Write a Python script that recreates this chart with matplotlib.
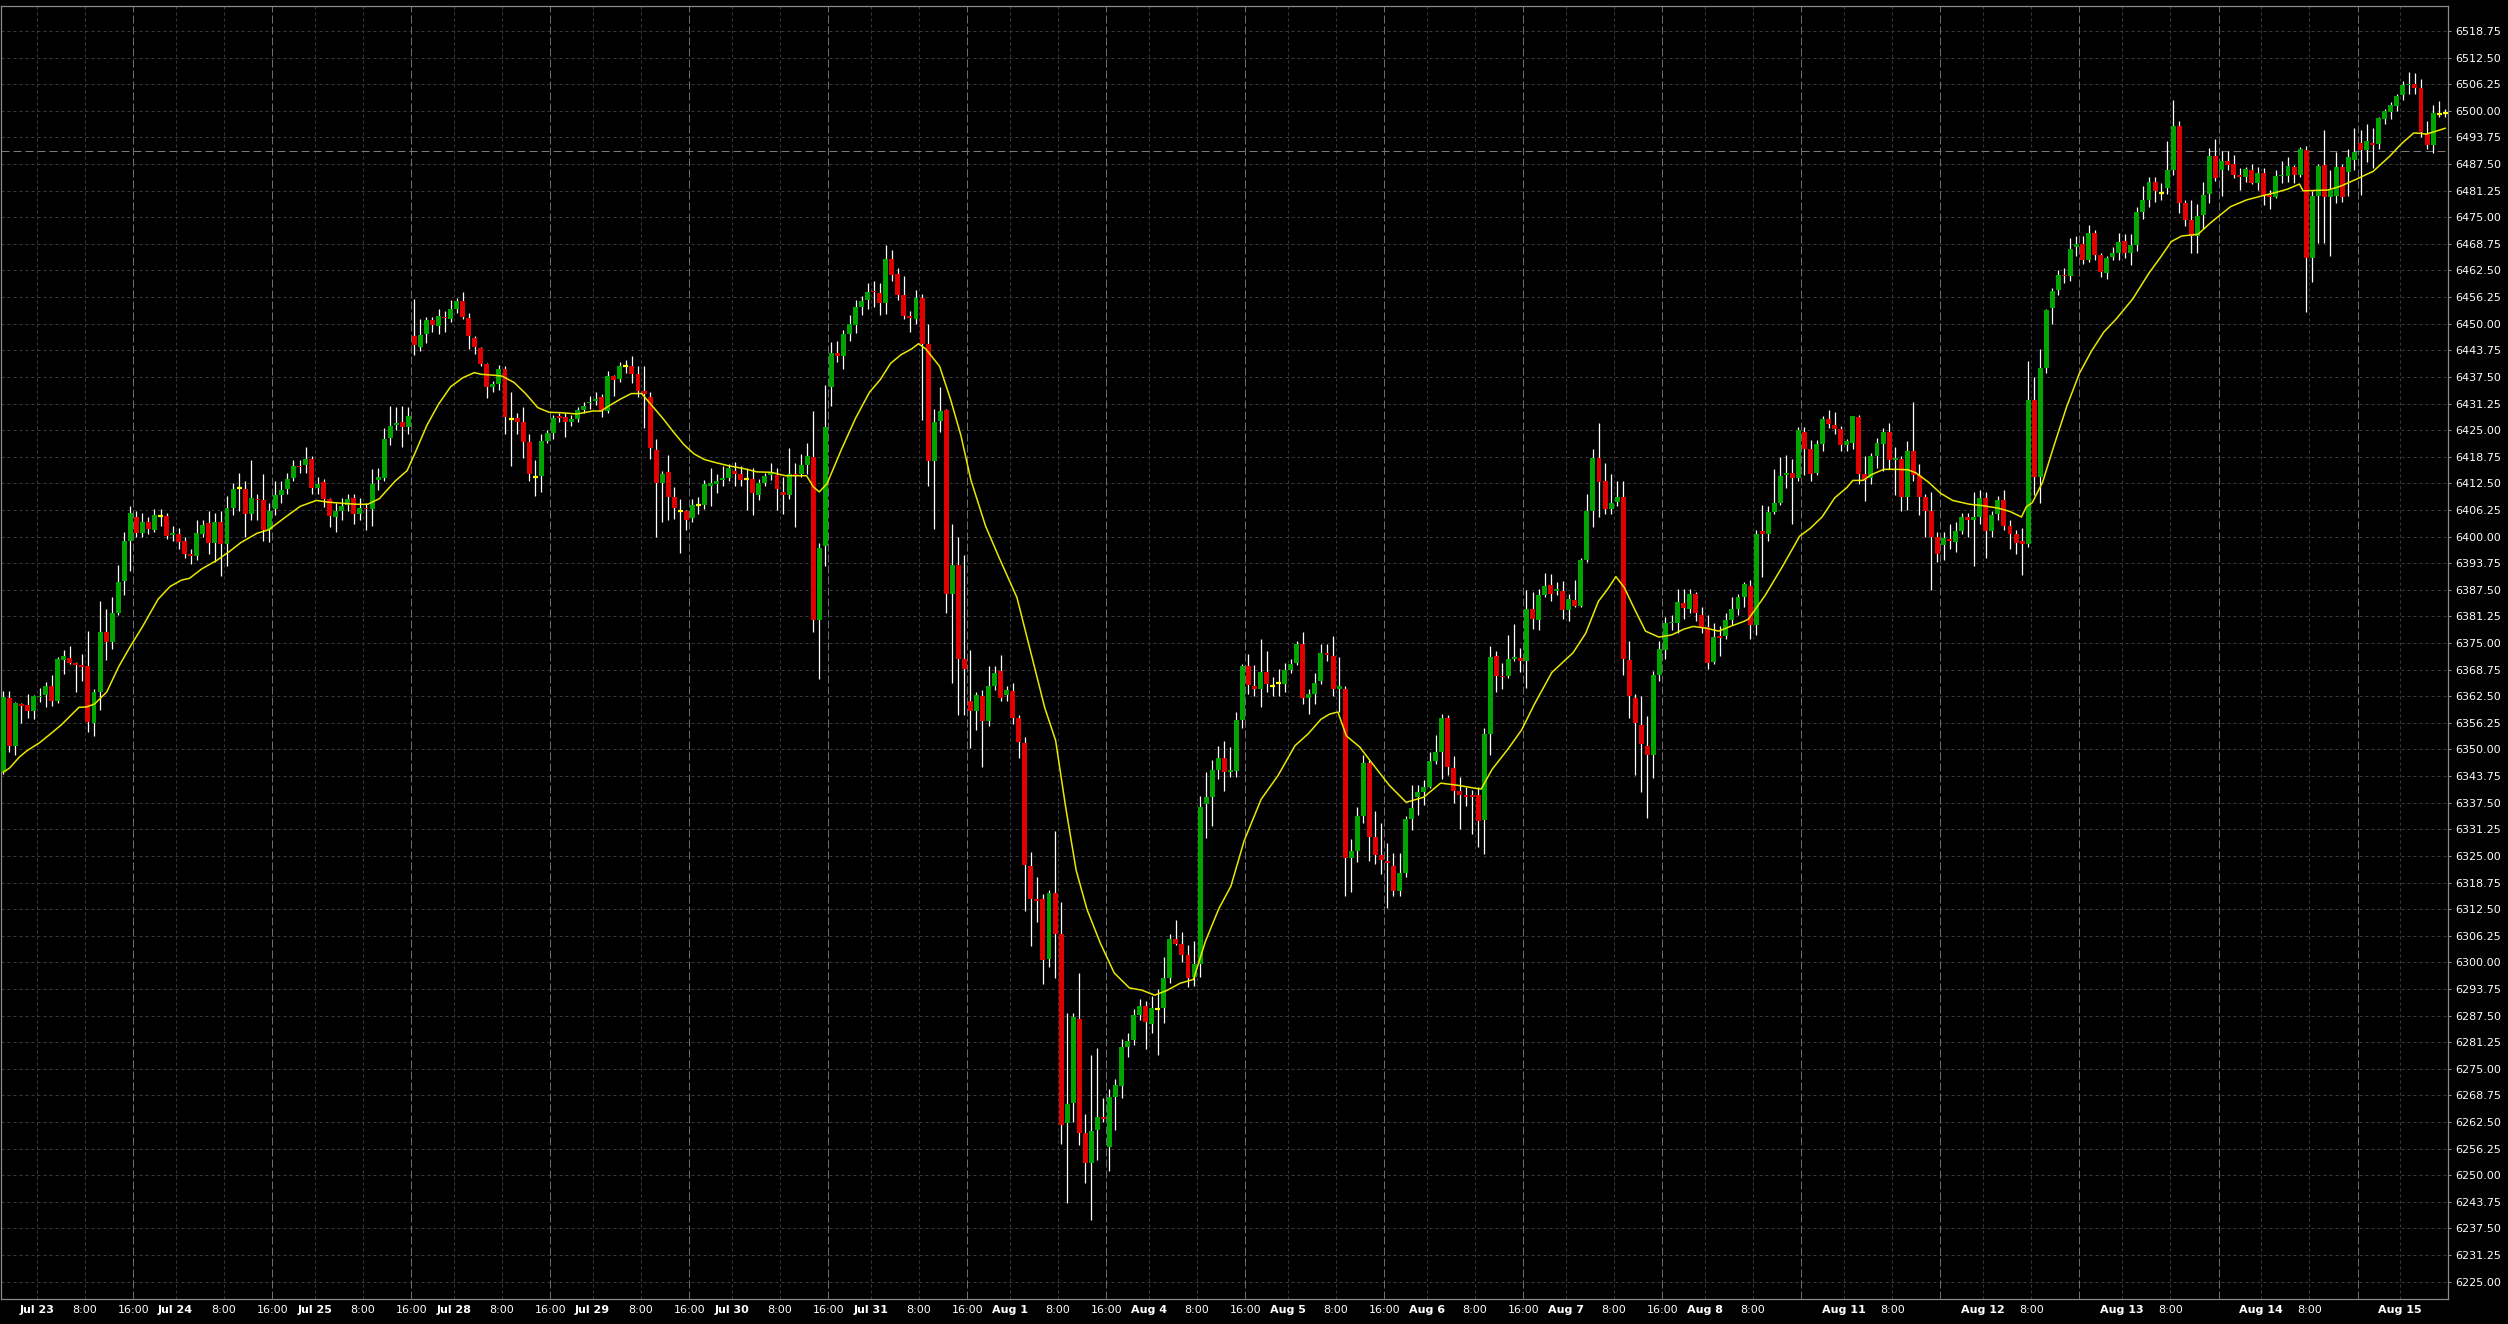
import matplotlib
matplotlib.use("Agg")
import matplotlib.pyplot as plt
import numpy as np

# hourly OHLC, one value per candle (candle 0 = Jul 22 18:00, 23 candles a day)
opens = [
    6344.8, 6362.2, 6350.9, 6360.7, 6360.4, 6359.0, 6362.3, 6362.8, 6364.9, 6361.4,
    6371.0, 6371.6, 6370.4, 6369.8, 6369.6, 6356.3, 6363.5, 6377.6, 6375.3, 6382.1,
    6389.5, 6399.0, 6404.6, 6400.8, 6403.4, 6401.6, 6404.8, 6404.9, 6400.3, 6400.6,
    6399.0, 6396.0, 6395.5, 6400.7, 6403.1, 6398.4, 6403.4, 6398.2, 6406.7, 6411.3,
    6411.2, 6405.3, 6408.9, 6408.6, 6401.5, 6406.4, 6409.7, 6411.2, 6413.8, 6416.6,
    6416.7, 6418.2, 6411.4, 6412.8, 6408.9, 6404.5, 6406.1, 6407.4, 6409.0, 6405.4,
    6406.7, 6406.6, 6413.3, 6413.7, 6423.1, 6426.2, 6427.0, 6425.7, 6447.0, 6444.6,
    6447.6, 6450.9, 6449.5, 6451.6, 6451.1, 6453.5, 6455.3, 6451.4, 6446.6, 6444.3,
    6440.6, 6435.2, 6435.9, 6439.4, 6427.7, 6427.8, 6427.0, 6422.2, 6414.1, 6414.2,
    6422.5, 6424.4, 6428.2, 6428.1, 6427.0, 6427.7, 6429.8, 6431.3, 6431.8, 6432.8,
    6429.5, 6437.7, 6437.1, 6440.1, 6440.1, 6438.3, 6434.2, 6432.8, 6420.3, 6412.5,
    6415.1, 6409.4, 6406.1, 6406.1, 6404.4, 6407.4, 6407.4, 6412.0, 6412.4, 6413.3,
    6413.7, 6415.5, 6414.8, 6413.5, 6413.5, 6409.7, 6412.6, 6414.5, 6414.5, 6410.5,
    6409.7, 6414.6, 6414.6, 6416.9, 6418.7, 6380.4, 6397.9, 6435.2, 6443.2, 6442.3,
    6447.5, 6449.6, 6453.9, 6455.6, 6457.6, 6457.2, 6454.8, 6465.2, 6461.7, 6456.8,
    6451.7, 6451.1, 6456.0, 6445.3, 6417.8, 6427.2, 6429.7, 6386.5, 6393.4, 6371.2,
    6361.3, 6359.0, 6362.5, 6356.7, 6365.0, 6368.5, 6362.8, 6363.7, 6357.3, 6351.6,
    6322.6, 6315.0, 6314.8, 6300.8, 6316.2, 6306.6, 6262.2, 6266.9, 6286.7, 6260.0,
    6252.8, 6260.6, 6263.6, 6256.7, 6268.4, 6271.0, 6280.1, 6281.8, 6287.6, 6289.8,
    6285.6, 6289.1, 6289.4, 6296.4, 6305.6, 6304.3, 6301.7, 6296.5, 6299.6, 6337.3,
    6338.8, 6345.3, 6347.9, 6344.6, 6345.0, 6356.9, 6369.7, 6364.8, 6364.2, 6368.3,
    6364.8, 6365.5, 6365.3, 6368.7, 6370.4, 6374.7, 6362.0, 6363.1, 6366.0, 6372.7,
    6372.0, 6364.2, 6364.3, 6324.4, 6326.1, 6334.3, 6346.9, 6329.5, 6325.3, 6323.7,
    6322.7, 6316.8, 6320.9, 6333.7, 6338.8, 6340.0, 6341.3, 6347.4, 6349.3, 6357.4,
    6345.6, 6340.2, 6339.3, 6339.3, 6339.4, 6333.5, 6353.7, 6372.0, 6367.3, 6367.3,
    6371.3, 6371.5, 6370.9, 6383.1, 6380.3, 6386.2, 6388.7, 6387.2, 6387.3, 6382.7,
    6385.2, 6383.8, 6394.5, 6405.9, 6418.5, 6413.1, 6406.6, 6408.2, 6409.3, 6371.0,
    6362.2, 6355.8, 6350.9, 6348.7, 6367.6, 6373.4, 6379.6, 6379.6, 6384.5, 6383.1,
    6386.6, 6381.6, 6378.7, 6370.6, 6376.6, 6376.6, 6380.5, 6383.1, 6385.9, 6388.3,
    6379.2, 6401.2, 6400.6, 6405.7, 6408.0, 6414.5, 6414.9, 6413.8, 6424.6, 6420.5,
    6414.9, 6421.7, 6427.6, 6426.1, 6425.2, 6421.5, 6421.9, 6428.2, 6414.6, 6413.7,
    6418.9, 6421.8, 6424.5, 6418.0, 6418.2, 6409.3, 6420.2, 6414.5, 6409.3, 6406.1,
    6400.0, 6398.0, 6399.4, 6398.7, 6401.2, 6404.6, 6403.9, 6404.6, 6409.1, 6401.2,
    6405.4, 6408.5, 6402.4, 6400.6, 6399.0, 6398.3, 6432.2, 6414.1, 6439.5, 6453.6,
    6458.0, 6461.5, 6461.2, 6468.0, 6468.8, 6464.9, 6471.3, 6466.2, 6461.9, 6465.7,
    6466.6, 6469.4, 6466.7, 6468.4, 6476.2, 6479.0, 6483.4, 6480.8, 6481.9, 6486.2,
    6496.5, 6478.4, 6474.3, 6470.6, 6475.5, 6480.5, 6489.4, 6486.1, 6488.2, 6487.5,
    6484.9, 6484.5, 6486.1, 6483.0, 6485.5, 6480.2, 6479.7, 6484.6, 6484.7, 6486.9,
    6484.9, 6490.8, 6465.5, 6479.9, 6487.2, 6479.7, 6479.9, 6486.9, 6485.6, 6488.5,
    6492.4, 6490.8, 6492.5, 6492.2, 6498.1, 6499.8, 6501.1, 6503.7, 6506.0, 6506.3,
    6505.4, 6494.7, 6492.0, 6499.3, 6499.5,
]
highs = [
    6363.8, 6363.8, 6361.2, 6361.0, 6363.0, 6362.8, 6364.4, 6365.9, 6367.5, 6371.8,
    6373.4, 6374.4, 6370.6, 6372.4, 6377.8, 6364.1, 6384.8, 6383.0, 6385.8, 6393.4,
    6401.0, 6407.2, 6406.0, 6405.5, 6404.5, 6406.5, 6406.5, 6405.6, 6402.5, 6402.0,
    6400.0, 6397.0, 6404.0, 6404.0, 6406.0, 6405.5, 6406.0, 6409.5, 6412.5, 6415.0,
    6413.0, 6418.0, 6410.0, 6414.6, 6408.0, 6413.0, 6413.0, 6415.0, 6418.0, 6418.0,
    6421.0, 6419.0, 6414.0, 6413.5, 6409.0, 6408.0, 6409.0, 6410.0, 6410.0, 6409.0,
    6408.0, 6415.9, 6416.0, 6425.5, 6430.7, 6430.5, 6430.7, 6430.5, 6455.8, 6451.0,
    6451.5, 6451.5, 6453.5, 6453.0, 6455.5, 6456.0, 6457.5, 6452.5, 6447.0, 6444.5,
    6440.8, 6436.5, 6440.3, 6440.0, 6434.0, 6429.0, 6430.5, 6424.0, 6418.0, 6424.0,
    6425.0, 6428.5, 6429.0, 6429.0, 6428.5, 6430.5, 6431.5, 6433.0, 6434.0, 6433.5,
    6439.0, 6438.0, 6441.0, 6441.5, 6442.3, 6440.0, 6440.0, 6434.0, 6423.0, 6415.5,
    6419.2, 6411.6, 6408.9, 6406.3, 6408.9, 6409.3, 6413.3, 6416.0, 6414.6, 6416.6,
    6417.0, 6417.6, 6416.6, 6416.0, 6416.0, 6413.5, 6415.0, 6417.3, 6416.1, 6414.0,
    6420.9, 6417.2, 6419.5, 6421.9, 6429.5, 6398.5, 6435.5, 6445.7, 6446.0, 6448.5,
    6452.0, 6455.5, 6456.5, 6459.5, 6460.0, 6459.5, 6468.5, 6467.2, 6463.0, 6461.2,
    6453.0, 6458.0, 6457.0, 6450.0, 6430.0, 6435.2, 6430.0, 6403.0, 6399.9, 6395.6,
    6373.4, 6363.5, 6364.0, 6369.5, 6369.5, 6372.3, 6365.0, 6365.5, 6358.0, 6353.0,
    6326.0, 6320.0, 6316.0, 6317.0, 6330.8, 6314.2, 6288.0, 6288.0, 6297.6, 6264.5,
    6278.2, 6280.0, 6268.2, 6270.3, 6272.6, 6282.0, 6283.5, 6289.0, 6291.5, 6291.0,
    6292.0, 6293.7, 6301.3, 6306.7, 6310.0, 6307.1, 6304.1, 6305.0, 6339.1, 6344.8,
    6347.6, 6350.9, 6352.1, 6350.6, 6358.8, 6370.1, 6372.5, 6369.9, 6376.0, 6373.2,
    6367.0, 6368.8, 6370.4, 6371.2, 6375.5, 6377.6, 6364.3, 6368.0, 6374.7, 6374.7,
    6376.6, 6371.8, 6364.8, 6329.0, 6336.5, 6348.7, 6347.6, 6335.5, 6332.7, 6328.1,
    6325.8, 6325.8, 6334.3, 6341.6, 6341.6, 6342.8, 6349.5, 6353.4, 6358.3, 6358.0,
    6348.4, 6343.5, 6341.2, 6340.5, 6341.2, 6355.0, 6374.4, 6373.2, 6370.4, 6376.9,
    6379.4, 6373.8, 6387.4, 6387.1, 6387.6, 6391.5, 6391.3, 6389.4, 6389.6, 6386.6,
    6389.9, 6395.0, 6409.9, 6420.5, 6426.7, 6417.3, 6414.7, 6413.1, 6413.1, 6375.5,
    6363.0, 6362.5, 6357.8, 6368.5, 6375.5, 6381.2, 6381.5, 6387.6, 6387.6, 6387.6,
    6387.1, 6383.4, 6381.5, 6379.7, 6379.0, 6382.0, 6385.7, 6386.6, 6389.4, 6389.9,
    6401.5, 6407.5, 6407.1, 6415.9, 6418.7, 6419.1, 6418.2, 6425.8, 6425.8, 6422.8,
    6422.8, 6428.4, 6429.7, 6429.3, 6426.0, 6423.0, 6428.4, 6428.5, 6419.0, 6419.7,
    6423.2, 6425.5, 6426.7, 6421.0, 6419.0, 6422.5, 6431.5, 6417.0, 6410.0, 6410.5,
    6401.0, 6401.0, 6403.0, 6403.5, 6405.5, 6405.5, 6410.5, 6411.0, 6410.5, 6406.0,
    6409.5, 6411.0, 6404.0, 6401.5, 6402.0, 6441.2, 6437.5, 6444.0, 6453.5, 6458.5,
    6462.5, 6463.0, 6470.1, 6470.5, 6470.5, 6473.2, 6472.0, 6466.5, 6466.0, 6468.0,
    6471.3, 6471.0, 6471.0, 6477.5, 6482.3, 6484.5, 6484.5, 6483.0, 6493.0, 6502.5,
    6497.5, 6479.0, 6479.0, 6478.0, 6483.4, 6491.2, 6493.3, 6490.5, 6490.5, 6489.6,
    6486.5, 6486.9, 6487.5, 6486.9, 6486.5, 6481.4, 6486.1, 6488.1, 6489.1, 6487.3,
    6491.6, 6491.7, 6481.2, 6487.6, 6495.5, 6486.0, 6490.4, 6487.5, 6491.0, 6495.9,
    6495.5, 6497.0, 6496.0, 6498.5, 6500.5, 6502.0, 6504.0, 6507.0, 6509.2, 6508.8,
    6507.4, 6497.5, 6501.4, 6502.3, 6500.4,
]
lows = [
    6344.2, 6349.5, 6348.7, 6356.3, 6357.5, 6357.2, 6361.1, 6360.0, 6360.2, 6361.0,
    6367.7, 6370.0, 6363.6, 6366.2, 6354.2, 6353.2, 6359.3, 6371.0, 6373.6, 6381.5,
    6386.2, 6392.0, 6400.0, 6400.0, 6400.5, 6401.0, 6402.5, 6399.5, 6399.0, 6397.0,
    6395.0, 6393.5, 6394.5, 6400.0, 6396.0, 6394.0, 6390.8, 6393.0, 6405.0, 6406.0,
    6400.0, 6404.0, 6404.0, 6399.0, 6398.8, 6405.0, 6408.0, 6410.0, 6413.0, 6415.0,
    6415.0, 6410.0, 6410.0, 6407.0, 6402.2, 6401.0, 6404.0, 6406.0, 6403.0, 6404.0,
    6401.5, 6402.5, 6411.0, 6413.0, 6421.6, 6425.0, 6421.0, 6424.0, 6442.6, 6443.5,
    6445.5, 6448.0, 6447.5, 6448.0, 6450.5, 6452.5, 6451.0, 6444.0, 6443.0, 6440.0,
    6432.5, 6434.0, 6434.5, 6424.0, 6416.5, 6424.0, 6418.5, 6413.0, 6409.5, 6410.5,
    6422.0, 6423.0, 6427.0, 6423.5, 6426.0, 6427.0, 6429.0, 6430.0, 6431.0, 6428.0,
    6429.0, 6433.0, 6436.2, 6438.5, 6436.0, 6432.8, 6425.4, 6418.2, 6399.8, 6403.5,
    6403.9, 6404.2, 6396.1, 6401.6, 6403.5, 6405.4, 6406.4, 6407.1, 6410.3, 6412.0,
    6413.0, 6412.0, 6412.0, 6406.2, 6405.0, 6408.5, 6412.0, 6413.3, 6406.2, 6405.4,
    6408.9, 6402.2, 6414.0, 6414.6, 6377.7, 6366.5, 6393.2, 6430.7, 6441.0, 6439.3,
    6446.0, 6447.9, 6452.0, 6453.5, 6454.0, 6452.0, 6452.2, 6460.0, 6455.5, 6451.0,
    6448.0, 6450.0, 6427.5, 6412.0, 6401.7, 6424.5, 6382.0, 6365.5, 6358.1, 6358.0,
    6350.4, 6354.5, 6346.0, 6355.5, 6364.0, 6361.5, 6361.5, 6356.0, 6348.1, 6312.0,
    6303.9, 6309.4, 6295.0, 6298.9, 6296.3, 6257.4, 6243.6, 6262.5, 6257.2, 6248.3,
    6239.4, 6253.5, 6262.4, 6251.1, 6260.6, 6268.2, 6277.8, 6280.5, 6286.5, 6279.7,
    6283.3, 6278.2, 6285.7, 6295.1, 6304.0, 6300.2, 6294.3, 6294.4, 6296.5, 6329.1,
    6332.0, 6343.0, 6340.2, 6343.5, 6343.5, 6355.0, 6363.0, 6362.5, 6359.9, 6363.4,
    6362.5, 6362.5, 6363.4, 6367.9, 6369.9, 6360.6, 6358.3, 6360.6, 6365.3, 6370.9,
    6362.5, 6358.8, 6315.6, 6316.5, 6323.5, 6332.8, 6323.7, 6323.0, 6320.7, 6312.8,
    6315.6, 6315.6, 6320.0, 6331.1, 6334.6, 6337.0, 6340.9, 6346.7, 6343.0, 6343.9,
    6337.4, 6331.4, 6336.8, 6330.2, 6327.2, 6325.5, 6348.8, 6363.4, 6364.3, 6366.7,
    6370.9, 6368.3, 6364.4, 6378.3, 6378.1, 6385.7, 6384.8, 6386.2, 6380.6, 6380.1,
    6383.4, 6383.4, 6394.0, 6402.2, 6404.7, 6405.4, 6405.4, 6407.1, 6367.6, 6357.4,
    6343.9, 6340.0, 6334.0, 6343.4, 6366.0, 6371.3, 6378.0, 6377.3, 6380.6, 6382.0,
    6380.1, 6377.3, 6368.8, 6370.0, 6372.0, 6376.0, 6379.2, 6381.5, 6383.4, 6376.0,
    6376.9, 6390.4, 6399.0, 6405.2, 6407.5, 6411.5, 6402.9, 6413.0, 6414.5, 6413.0,
    6414.5, 6420.0, 6425.5, 6424.0, 6420.0, 6420.0, 6420.6, 6412.4, 6408.4, 6412.4,
    6416.0, 6415.4, 6415.8, 6409.8, 6406.1, 6406.3, 6413.0, 6405.0, 6400.0, 6387.4,
    6394.1, 6394.5, 6397.0, 6396.5, 6400.5, 6400.0, 6393.0, 6403.0, 6395.0, 6400.0,
    6404.0, 6401.5, 6397.0, 6396.0, 6391.0, 6397.5, 6409.8, 6408.0, 6438.5, 6450.0,
    6456.7, 6459.5, 6460.0, 6466.0, 6464.0, 6464.5, 6465.0, 6461.0, 6460.5, 6465.0,
    6465.0, 6465.5, 6463.7, 6467.0, 6474.5, 6477.5, 6478.5, 6479.0, 6480.5, 6485.0,
    6476.0, 6473.0, 6466.7, 6466.5, 6472.2, 6478.3, 6483.5, 6479.9, 6486.0, 6484.2,
    6481.4, 6483.4, 6482.7, 6481.4, 6477.9, 6476.9, 6479.5, 6483.0, 6483.4, 6483.1,
    6484.5, 6452.8, 6459.8, 6469.0, 6468.9, 6466.0, 6478.3, 6478.5, 6480.0, 6486.0,
    6480.2, 6488.0, 6486.5, 6491.0, 6497.0, 6498.0, 6500.0, 6502.5, 6504.0, 6504.0,
    6493.9, 6491.0, 6490.0, 6498.6, 6498.6,
]
closes = [
    6362.4, 6350.9, 6360.9, 6360.3, 6359.0, 6362.6, 6362.6, 6364.9, 6361.4, 6371.2,
    6372.0, 6370.2, 6369.9, 6369.4, 6356.5, 6363.5, 6377.6, 6375.3, 6382.0, 6389.3,
    6399.0, 6405.6, 6400.8, 6403.4, 6401.9, 6405.0, 6404.8, 6400.2, 6400.9, 6398.8,
    6396.0, 6395.5, 6400.8, 6402.7, 6398.4, 6403.4, 6398.2, 6406.7, 6411.2, 6411.3,
    6405.4, 6409.0, 6408.5, 6401.6, 6406.1, 6409.7, 6411.0, 6413.5, 6416.6, 6416.3,
    6418.2, 6411.4, 6412.4, 6408.9, 6404.8, 6406.1, 6407.1, 6408.9, 6405.4, 6406.7,
    6406.4, 6412.3, 6413.9, 6422.9, 6426.0, 6426.7, 6425.7, 6428.4, 6445.0, 6447.4,
    6450.9, 6449.8, 6451.9, 6451.3, 6453.5, 6455.3, 6451.5, 6447.0, 6444.5, 6440.6,
    6435.2, 6435.9, 6439.4, 6428.0, 6427.7, 6427.0, 6422.2, 6414.6, 6414.1, 6422.5,
    6424.4, 6427.8, 6427.9, 6427.0, 6427.7, 6429.8, 6430.7, 6431.6, 6432.4, 6429.5,
    6437.8, 6436.7, 6440.1, 6440.1, 6438.3, 6434.3, 6433.4, 6420.9, 6412.5, 6414.8,
    6409.4, 6406.7, 6406.1, 6403.8, 6407.4, 6407.4, 6412.3, 6412.6, 6413.0, 6413.6,
    6416.0, 6414.8, 6413.2, 6413.5, 6410.2, 6412.5, 6414.2, 6414.8, 6411.1, 6409.7,
    6414.6, 6414.2, 6416.9, 6418.9, 6380.4, 6397.3, 6425.8, 6443.2, 6442.3, 6447.5,
    6449.9, 6453.9, 6455.3, 6457.5, 6457.4, 6454.8, 6465.2, 6461.4, 6456.8, 6451.7,
    6451.3, 6456.0, 6445.3, 6417.8, 6427.0, 6429.6, 6386.5, 6393.4, 6371.2, 6368.9,
    6359.0, 6362.8, 6356.7, 6365.0, 6368.0, 6362.0, 6364.0, 6357.3, 6351.8, 6322.8,
    6315.0, 6314.4, 6300.5, 6316.2, 6306.6, 6261.9, 6266.8, 6287.2, 6260.0, 6252.8,
    6260.4, 6263.6, 6263.3, 6268.4, 6271.2, 6280.1, 6281.5, 6287.6, 6289.8, 6285.9,
    6289.2, 6289.1, 6296.3, 6305.6, 6304.3, 6301.7, 6296.4, 6299.6, 6336.5, 6338.8,
    6345.3, 6347.9, 6344.6, 6345.3, 6356.9, 6369.7, 6365.1, 6364.3, 6368.3, 6365.3,
    6364.8, 6365.5, 6368.7, 6370.1, 6374.7, 6362.0, 6363.0, 6365.7, 6372.7, 6372.1,
    6364.2, 6364.8, 6324.4, 6326.1, 6334.3, 6346.9, 6329.5, 6325.3, 6324.1, 6323.3,
    6316.8, 6320.9, 6333.7, 6336.3, 6340.0, 6341.3, 6347.4, 6349.3, 6357.4, 6345.8,
    6340.2, 6339.3, 6338.8, 6338.8, 6333.2, 6353.7, 6371.8, 6367.3, 6367.0, 6371.3,
    6371.8, 6370.9, 6383.1, 6380.6, 6386.2, 6388.5, 6386.6, 6387.8, 6382.7, 6385.4,
    6383.8, 6394.5, 6405.9, 6418.5, 6412.9, 6406.6, 6407.8, 6409.3, 6371.3, 6362.5,
    6356.2, 6351.2, 6348.7, 6367.6, 6373.6, 6379.7, 6380.0, 6384.6, 6383.2, 6386.6,
    6382.0, 6378.7, 6370.4, 6376.4, 6376.2, 6380.3, 6383.1, 6385.9, 6388.8, 6379.2,
    6400.7, 6400.7, 6405.7, 6408.0, 6414.2, 6415.0, 6413.8, 6425.0, 6420.5, 6414.7,
    6421.7, 6427.6, 6426.4, 6425.2, 6421.5, 6422.4, 6428.4, 6414.6, 6413.4, 6418.9,
    6421.9, 6424.5, 6418.0, 6418.4, 6409.3, 6420.2, 6414.5, 6409.3, 6406.1, 6400.0,
    6396.0, 6399.7, 6399.0, 6401.2, 6404.6, 6403.9, 6404.6, 6409.1, 6401.2, 6405.0,
    6408.5, 6402.4, 6400.6, 6398.5, 6398.3, 6432.2, 6414.1, 6439.5, 6453.2, 6457.6,
    6461.5, 6461.2, 6467.5, 6468.8, 6464.9, 6471.3, 6466.2, 6462.1, 6465.5, 6466.6,
    6469.2, 6466.7, 6468.4, 6476.2, 6479.0, 6483.4, 6481.2, 6480.8, 6486.0, 6496.5,
    6478.4, 6474.3, 6470.6, 6475.4, 6480.2, 6489.4, 6484.3, 6488.2, 6487.3, 6484.9,
    6484.5, 6486.3, 6483.1, 6485.5, 6479.9, 6479.7, 6484.8, 6484.9, 6487.0, 6484.9,
    6491.1, 6465.5, 6479.9, 6487.1, 6479.7, 6481.4, 6486.7, 6479.7, 6489.1, 6490.4,
    6490.8, 6492.8, 6492.0, 6498.2, 6500.0, 6501.4, 6503.5, 6506.1, 6506.3, 6505.4,
    6495.1, 6492.0, 6499.6, 6499.3, 6499.5,
]

# yellow moving average at these candle positions
ma_x = [0, 1, 2.7, 4, 6, 8, 9.6, 12.5, 13.8, 15.1, 17.1, 19.1, 21, 23, 25.6, 27.6,
        29.5, 30.8, 32.8, 35.4, 37.4, 39.3, 42, 43.9, 46.5, 49.1, 51.8, 53.7, 56.3,
        58.3, 60.3, 62.2, 64.8, 66.8, 68.1, 70.1, 72, 74, 76, 77.9, 79.2, 81.2, 82.5,
        84.5, 86.4, 88.4, 90.3, 92.3, 94.9, 97.5, 98.9, 100.2, 102.1, 103.9, 105.6,
        107.3, 109.1, 110.8, 112.6, 114.3, 116, 117.8, 120.1, 122.4, 124.7, 127,
        129.4, 131.7, 132.9, 134, 135, 136.3, 138.7, 141, 143.3, 145.1, 146.8, 148.5,
        150.3, 151.4, 152.6, 154.9, 156.7, 158.4, 160.1, 162.5, 164.8, 167.7, 170,
        172.3, 174.1, 175.8, 177.5, 179.3, 181.5, 183.8, 186.3, 188.3, 190.5, 192.5,
        194.7, 196.9, 198.9, 201.1, 203.1, 205.3, 208.1, 210.9, 213.7, 215.9, 218,
        219.4, 220.8, 222.2, 224.4, 226.5, 229.3, 232.1, 235, 237.8, 240.6, 243.5,
        244.5, 246.3, 249.1, 251.2, 253.3, 256.2, 259.7, 261.8, 263.9, 265.4, 266.8,
        268.2, 269.6, 271.7, 273.9, 276, 278.1, 279.6, 281.7, 283.8, 285.9, 288,
        288.7, 291.5, 294.4, 297.2, 299, 300.9, 303, 305, 306, 307.7, 309, 311.1,
        313.1, 315.1, 316.4, 318.5, 320.5, 322.5, 325.3, 327.3, 330, 332, 333.9,
        334.7, 335.7, 337.4, 339.4, 341.4, 343.5, 345.5, 347.5, 349.5, 352.3, 355,
        357, 358.7, 360.4, 363.1, 365.1, 366.4, 368.5, 371.2, 373.9, 375.9, 377.9,
        379.9, 380.5, 382.6, 384.6, 386.7, 389.4, 392.1, 394.8, 396.8, 398.8, 400.1,
        400.8, 402.2, 404]
ma_y = [6344.7, 6345.6, 6348.3, 6349.8, 6351.6, 6353.9, 6355.8, 6359.9, 6360.0,
        6360.7, 6363.5, 6369.5, 6374.2, 6378.8, 6385.3, 6388.3, 6389.8, 6390.2,
        6392.4, 6394.5, 6396.5, 6398.6, 6400.8, 6401.6, 6404.4, 6407.1, 6408.5,
        6408.1, 6407.8, 6407.6, 6407.6, 6408.9, 6413.0, 6415.5, 6419.6, 6426.2,
        6431.1, 6435.2, 6437.3, 6438.5, 6438.1, 6437.9, 6437.7, 6436.2, 6433.6,
        6430.3, 6429.2, 6429.1, 6428.8, 6429.5, 6429.5, 6430.7, 6432.3, 6433.6,
        6433.6, 6430.8, 6427.8, 6424.7, 6421.6, 6419.4, 6418.1, 6417.4, 6416.6,
        6416.0, 6415.2, 6415.1, 6414.3, 6414.3, 6414.3, 6411.7, 6410.5, 6412.5,
        6420.6, 6427.8, 6433.9, 6436.9, 6440.7, 6442.7, 6444.1, 6445.3, 6444.1,
        6440.0, 6432.3, 6423.9, 6413.2, 6402.5, 6394.9, 6385.7, 6372.7, 6359.8,
        6352.1, 6336.1, 6321.6, 6312.4, 6304.5, 6297.5, 6294.0, 6293.5, 6292.3,
        6293.4, 6295.1, 6296.0, 6305.0, 6312.6, 6317.9, 6328.6, 6338.3, 6343.9,
        6350.9, 6353.7, 6357.1, 6358.3, 6358.8, 6353.2, 6350.6, 6346.7, 6341.6,
        6337.6, 6338.8, 6342.1, 6341.6, 6340.9, 6340.7, 6345.3, 6350.4, 6354.6,
        6360.6, 6368.1, 6372.7, 6377.3, 6384.8, 6387.6, 6390.6, 6388.0, 6383.8,
        6377.8, 6376.4, 6376.9, 6378.3, 6378.9, 6378.5, 6377.8, 6379.0, 6380.1,
        6380.6, 6386.2, 6393.1, 6400.1, 6402.0, 6404.6, 6409.1, 6411.5, 6413.2,
        6413.2, 6414.5, 6415.8, 6415.8, 6415.7, 6415.0, 6412.8, 6410.2, 6408.5,
        6407.6, 6407.3, 6406.7, 6405.9, 6404.6, 6407.0, 6408.0, 6412.8, 6421.9,
        6430.6, 6438.4, 6443.6, 6448.0, 6451.0, 6455.8, 6461.9, 6465.8, 6469.3,
        6470.6, 6471.0, 6473.6, 6475.1, 6477.5, 6479.1, 6480.1, 6480.8, 6481.6,
        6482.8, 6481.2, 6481.3, 6481.4, 6482.3, 6484.0, 6485.8, 6489.3, 6492.3,
        6494.8, 6494.7, 6494.5, 6495.1, 6495.9]

day_labels = ["Jul 23", "Jul 24", "Jul 25", "Jul 28", "Jul 29", "Jul 30", "Jul 31",
              "Aug 1", "Aug 4", "Aug 5", "Aug 6", "Aug 7", "Aug 8", "Aug 11",
              "Aug 12", "Aug 13", "Aug 14", "Aug 15"]
first_midnight = 6      # candle index of Jul 23 0:00
bars_per_day = 23
last_16_label = 11      # "16:00" labels shown up to Aug 7
bid_price = 6490.6

price_ticks = np.arange(6225.0, 6518.76, 6.25)

# ---------------------------------------------------------------------------
W, H = 2508, 1324
fig = plt.figure(figsize=(W / 100, H / 100), dpi=100, facecolor="black")
ax = fig.add_axes([1 / W, 25 / H, 2447 / W, 1293 / H], facecolor="black")

o = np.array(opens)
h = np.array(highs)
l = np.array(lows)
c = np.array(closes)
x = np.arange(len(o))

ax.set_xlim(-0.39, 404.47)
ax.set_ylim(6220.94, 6524.62)

grid_col = "#3a3a3a"
sess_col = "#6c6c6c"
for p in price_ticks:
    ax.axhline(p, color=grid_col, lw=0.72, ls=(0, (3, 3)), zorder=1)

xt_pos, xt_lab, xt_bold = [], [], []
for d, lab in enumerate(day_labels):
    start = first_midnight + d * bars_per_day
    for off, txt in ((0, lab), (8, "8:00"), (16, "16:00")):
        pos = start + off - 0.5
        if pos > 404:
            continue
        if off == 16:
            ax.axvline(pos, color=sess_col, lw=0.72, ls=(0, (8, 3)), zorder=1)
        else:
            ax.axvline(pos, color=grid_col, lw=0.72, ls=(0, (3, 3)), zorder=1)
        if off == 16 and d > last_16_label:
            continue
        xt_pos.append(pos)
        xt_lab.append(txt)
        xt_bold.append(off == 0)

ax.axhline(bid_price, color="#7a7a7a", lw=0.72, ls=(0, (8, 4)), zorder=2)

# candles
ax.vlines(x, l, h, color="white", lw=0.9, zorder=3)
up = c > o
dn = c < o
flat = c == o
lo = np.minimum(o, c)
hgt = np.maximum(np.abs(c - o), 0.35)
bw = 0.82
ax.bar(x[up], hgt[up], bottom=lo[up], width=bw, color="#00a400", lw=0, zorder=4)
ax.bar(x[dn], hgt[dn], bottom=lo[dn], width=bw, color="#e00000", lw=0, zorder=4)
ax.hlines(c[flat], x[flat] - bw / 2, x[flat] + bw / 2, color="#ffff00", lw=1.6, zorder=4)

ax.plot(ma_x, ma_y, color="#e8e800", lw=1.1, zorder=5)

# axes frame and labels
for s in ax.spines.values():
    s.set_color("#8a8a8a")
    s.set_linewidth(0.9)

ax.yaxis.tick_right()
ax.set_yticks(price_ticks)
ax.set_yticklabels([f"{v:.2f}" for v in price_ticks])
ax.tick_params(axis="y", colors="#8a8a8a", labelcolor="white", labelsize=8,
               length=2, width=0.8, pad=3)
ax.set_xticks(xt_pos)
ax.set_xticklabels(xt_lab)
ax.tick_params(axis="x", length=0, labelcolor="white", labelsize=8, pad=4)
for t, b in zip(ax.get_xticklabels(), xt_bold):
    t.set_fontweight("bold" if b else "normal")

fig.savefig("out.png", dpi=100, facecolor="black")
